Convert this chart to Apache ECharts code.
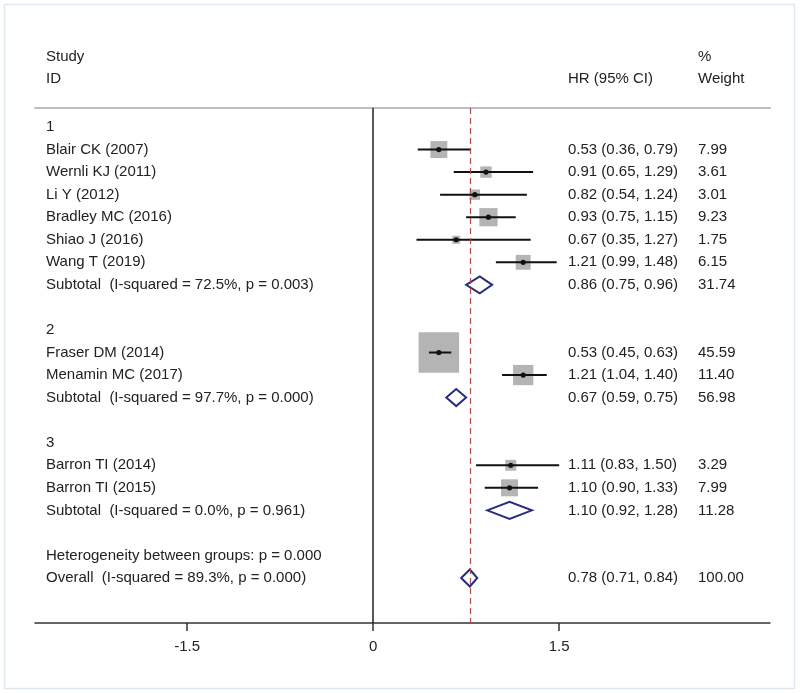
<!DOCTYPE html>
<html>
<head>
<meta charset="utf-8">
<script src="https://cdn.jsdelivr.net/npm/echarts@6/dist/echarts.min.js"></script>
<style>html,body{margin:0;padding:0;background:#fff}#chart{width:800px;height:693px}</style>
</head>
<body>
<div id="chart"></div>
<script>
// ---- data ----
const rowLabels = ["1","Blair CK (2007)","Wernli KJ (2011)","Li Y (2012)","Bradley MC (2016)","Shiao J (2016)","Wang T (2019)","Subtotal  (I-squared = 72.5%, p = 0.003)","","2","Fraser DM (2014)","Menamin MC (2017)","Subtotal  (I-squared = 97.7%, p = 0.000)","","3","Barron TI (2014)","Barron TI (2015)","Subtotal  (I-squared = 0.0%, p = 0.961)","","Heterogeneity between groups: p = 0.000","Overall  (I-squared = 89.3%, p = 0.000)"];
const studyRows = [1,2,3,4,5,6,10,11,15,16];
const studyHR = [0.53,0.91,0.82,0.93,0.67,1.21,0.53,1.21,1.11,1.10];
const studyLo = [0.36,0.65,0.54,0.75,0.35,0.99,0.45,1.04,0.83,0.90];
const studyHi = [0.79,1.29,1.24,1.15,1.27,1.48,0.63,1.40,1.50,1.33];
const studyWeight = [7.99,3.61,3.01,9.23,1.75,6.15,45.59,11.40,3.29,7.99];
const pooledRows = [7,12,17,20];
const pooledHR = [0.86,0.67,1.10,0.78];
const pooledLo = [0.75,0.59,0.92,0.71];
const pooledHi = [0.96,0.75,1.28,0.84];
const pooledWeight = [31.74,56.98,11.28,100.00];
const overallHR = 0.78;
const tickValues = [-1.5, 0, 1.5];
const headers = {study:"Study", id:"ID", hr:"HR (95% CI)", pct:"%", weight:"Weight"};

// ---- build ----
const FONT = '"Liberation Sans", Arial, sans-serif';
const FS = 15;
const TXT = '#222';

const studyData = studyRows.map((r,i)=>[studyHR[i], r, studyLo[i], studyHi[i], studyWeight[i]]);
const pooledData = pooledRows.map((r,i)=>[pooledHR[i], r, pooledLo[i], pooledHi[i], pooledWeight[i]]);

const hrText = {}, wText = {};
studyRows.forEach((r,i)=>{hrText[r]=studyHR[i].toFixed(2)+' ('+studyLo[i].toFixed(2)+', '+studyHi[i].toFixed(2)+')'; wText[r]=studyWeight[i].toFixed(2);});
pooledRows.forEach((r,i)=>{hrText[r]=pooledHR[i].toFixed(2)+' ('+pooledLo[i].toFixed(2)+', '+pooledHi[i].toFixed(2)+')'; wText[r]=pooledWeight[i].toFixed(2);});
const textData = rowLabels.map((l,r)=>[0, r]);

const chart = echarts.init(document.getElementById('chart'), null, {renderer:'canvas'});

const option = {
  animation:false,
  grid:{left:35, right:30, top:108, bottom:70},
  xAxis:[{
    type:'value', min:-2.726, max:3.2, position:'bottom',
    axisLine:{show:true, onZero:false, lineStyle:{color:'#333', width:1.5}},
    axisTick:{show:true, customValues:tickValues, length:8, lineStyle:{color:'#333', width:1.5}},
    axisLabel:{customValues:tickValues, fontFamily:FONT, fontSize:FS, color:TXT, margin:16,
      formatter:v=>String(v)},
    splitLine:{show:false}
  },{
    type:'value', min:-2.726, max:3.2, position:'top',
    axisLine:{show:true, onZero:false, lineStyle:{color:'#bdbdbd', width:2}},
    axisTick:{show:false}, axisLabel:{show:false}, splitLine:{show:false}
  }],
  yAxis:{type:'value', inverse:true, min:-0.843, max:21.995, show:false},
  graphic:[
    {type:'rect', shape:{x:4.5,y:4.5,width:790,height:684}, style:{fill:'none', stroke:'#dde8f0', lineWidth:1.5}, silent:true},
    {type:'text', x:46, y:57, style:{text:headers.study, font:FS+'px '+FONT, fill:TXT, verticalAlign:'middle'}},
    {type:'text', x:46, y:79, style:{text:headers.id, font:FS+'px '+FONT, fill:TXT, verticalAlign:'middle'}},
    {type:'text', x:568, y:79, style:{text:headers.hr, font:FS+'px '+FONT, fill:TXT, verticalAlign:'middle'}},
    {type:'text', x:698, y:57, style:{text:headers.pct, font:FS+'px '+FONT, fill:TXT, verticalAlign:'middle'}},
    {type:'text', x:698, y:79, style:{text:headers.weight, font:FS+'px '+FONT, fill:TXT, verticalAlign:'middle'}}
  ],
  series:[
    {
      type:'custom', name:'lines', data:[[0,0]], silent:true, z:1,
      renderItem:()=>({type:'group', children:[]}),
      markLine:{
        silent:true, symbol:'none', label:{show:false},
        data:[
          {xAxis:0, lineStyle:{color:'#222', width:1.5, type:'solid'}},
          {xAxis:overallHR, lineStyle:{color:'#b04a50', width:1.2, type:[6,4]}}
        ]
      }
    },
    {
      type:'custom', name:'studies', data:studyData, silent:true, z:3,
      renderItem:(params, api)=>{
        const c = api.coord([api.value(0), api.value(1)]);
        const l = api.coord([api.value(2), api.value(1)]);
        const h = api.coord([api.value(3), api.value(1)]);
        const s = 6*Math.sqrt(api.value(4));
        return {type:'group', children:[
          {type:'rect', shape:{x:c[0]-s/2, y:c[1]-s/2, width:s, height:s}, style:{fill:'#b4b4b4'}},
          {type:'line', shape:{x1:l[0], y1:l[1], x2:h[0], y2:h[1]}, style:{stroke:'#111', lineWidth:2}},
          {type:'circle', shape:{cx:c[0], cy:c[1], r:2.6}, style:{fill:'#111'}}
        ]};
      }
    },
    {
      type:'custom', name:'pooled', data:pooledData, silent:true, z:3,
      renderItem:(params, api)=>{
        const c = api.coord([api.value(0), api.value(1)]);
        const l = api.coord([api.value(2), api.value(1)]);
        const h = api.coord([api.value(3), api.value(1)]);
        const d = 8.5;
        return {type:'polygon', shape:{points:[[l[0],c[1]],[c[0],c[1]-d],[h[0],c[1]],[c[0],c[1]+d]]},
          style:{fill:'#fff', stroke:'#262c7e', lineWidth:2}};
      }
    },
    {
      type:'custom', name:'text', data:textData, silent:true, z:4, clip:false,
      renderItem:(params, api)=>{
        const r = api.value(1);
        const y = api.coord([0, r])[1];
        const ch = [];
        if (rowLabels[r]) ch.push({type:'text', x:46, y:y, style:{text:rowLabels[r], font:FS+'px '+FONT, fill:TXT, verticalAlign:'middle'}});
        if (hrText[r]) ch.push({type:'text', x:568, y:y, style:{text:hrText[r], font:FS+'px '+FONT, fill:TXT, verticalAlign:'middle'}});
        if (wText[r]) ch.push({type:'text', x:698, y:y, style:{text:wText[r], font:FS+'px '+FONT, fill:TXT, verticalAlign:'middle'}});
        return {type:'group', children:ch};
      }
    }
  ]
};
chart.setOption(option);
</script>
</body>
</html>
